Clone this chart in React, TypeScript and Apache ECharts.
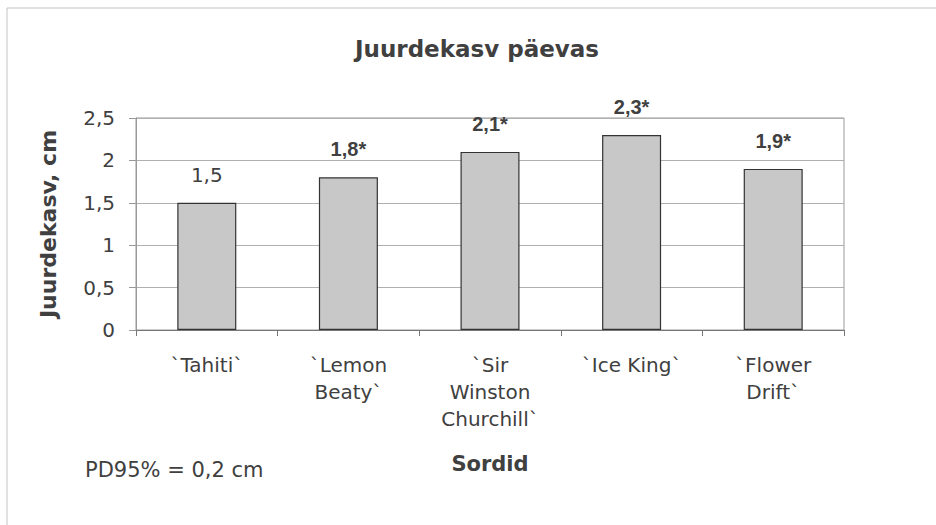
import React, { useEffect, useRef } from "react";
import * as echarts from "echarts";

const categories = ["`Tahiti`", "`Lemon\nBeaty`", "`Sir\nWinston\nChurchill`", "`Ice King`", "`Flower\nDrift`"];
const values = [1.5, 1.8, 2.1, 2.3, 1.9];
const significant = [false, true, true, true, true];
const yTicks = ["0", "0,5", "1", "1,5", "2", "2,5"];
const titleText = "Juurdekasv päevas";
const yName = "Juurdekasv, cm";
const xName = "Sordid";
const noteText = "PD95% = 0,2 cm";

const FONT = "'DejaVu Sans', 'Liberation Sans', Arial, sans-serif";
const BOLD_FONT = "'Liberation Sans', Arial, sans-serif";
const TEXT = "#404040";

export default function App() {
  const ref = useRef<HTMLDivElement>(null);
  useEffect(() => {
    if (!ref.current) return;
    const chart = echarts.init(ref.current, undefined, { renderer: "svg" });
    const fmt = (v: number) => String(v).replace(".", ",");
    chart.setOption({
      animation: false,
      backgroundColor: "#fff",
      textStyle: { fontFamily: FONT },
      title: {
        text: titleText,
        left: 350,
        top: 32,
        textStyle: { fontFamily: FONT, fontSize: 23, fontWeight: "bold", color: TEXT },
      },
      grid: {
        left: 136,
        right: 92,
        top: 118,
        bottom: 195,
        show: true,
        borderColor: "#999",
        borderWidth: 1,
      },
      xAxis: {
        type: "category",
        data: categories,
        name: xName,
        nameLocation: "middle",
        nameGap: 123,
        nameTextStyle: { fontFamily: FONT, fontSize: 21, fontWeight: "bold", color: TEXT },
        axisLine: { lineStyle: { color: "#777", width: 1 } },
        axisTick: { show: true, alignWithLabel: false, length: 6, lineStyle: { color: "#777" } },
        axisLabel: {
          fontFamily: FONT,
          fontSize: 20,
          color: TEXT,
          lineHeight: 27,
          margin: 21,
          interval: 0,
        },
      },
      yAxis: {
        type: "value",
        min: 0,
        max: 2.5,
        interval: 0.5,
        name: yName,
        nameLocation: "middle",
        nameGap: 77,
        nameTextStyle: { fontFamily: FONT, fontSize: 22, fontWeight: "bold", color: TEXT },
        axisLine: { show: true, lineStyle: { color: "#999" } },
        axisTick: { show: true, length: 7, lineStyle: { color: "#999" } },
        splitLine: { show: true, lineStyle: { color: "#b0b0b0", width: 1 } },
        axisLabel: {
          fontFamily: FONT,
          fontSize: 20,
          color: TEXT,
          margin: 21,
          formatter: (v: number) => yTicks[Math.round(v / 0.5)] ?? fmt(v),
        },
      },
      series: [
        {
          type: "bar",
          barWidth: 59,
          data: values.map((v, i) => ({
            value: v,
            label: {
              show: true,
              position: "top",
              distance: 18,
              fontFamily: significant[i] ? BOLD_FONT : FONT,
              fontSize: 20,
              color: TEXT,
              fontWeight: significant[i] ? "bold" : "normal",
              formatter: () => fmt(v) + (significant[i] ? "*" : ""),
            },
          })),
          itemStyle: { color: "#c8c8c8", borderColor: "#333", borderWidth: 1.2 },
        },
      ],
      graphic: [
        {
          type: "rect",
          shape: { x: 7, y: 8, width: 940, height: 530 },
          style: { fill: "none", stroke: "#c4c4c4", lineWidth: 1 },
          silent: true,
        },
        {
          type: "text",
          left: 85,
          top: 459,
          style: { text: noteText, fontFamily: FONT, fontSize: 21, fill: TEXT },
        },
      ],
    });
    return () => chart.dispose();
  }, []);
  return <div ref={ref} style={{ position: "fixed", left: 0, top: 0, width: 936, height: 525 }} />;
}
